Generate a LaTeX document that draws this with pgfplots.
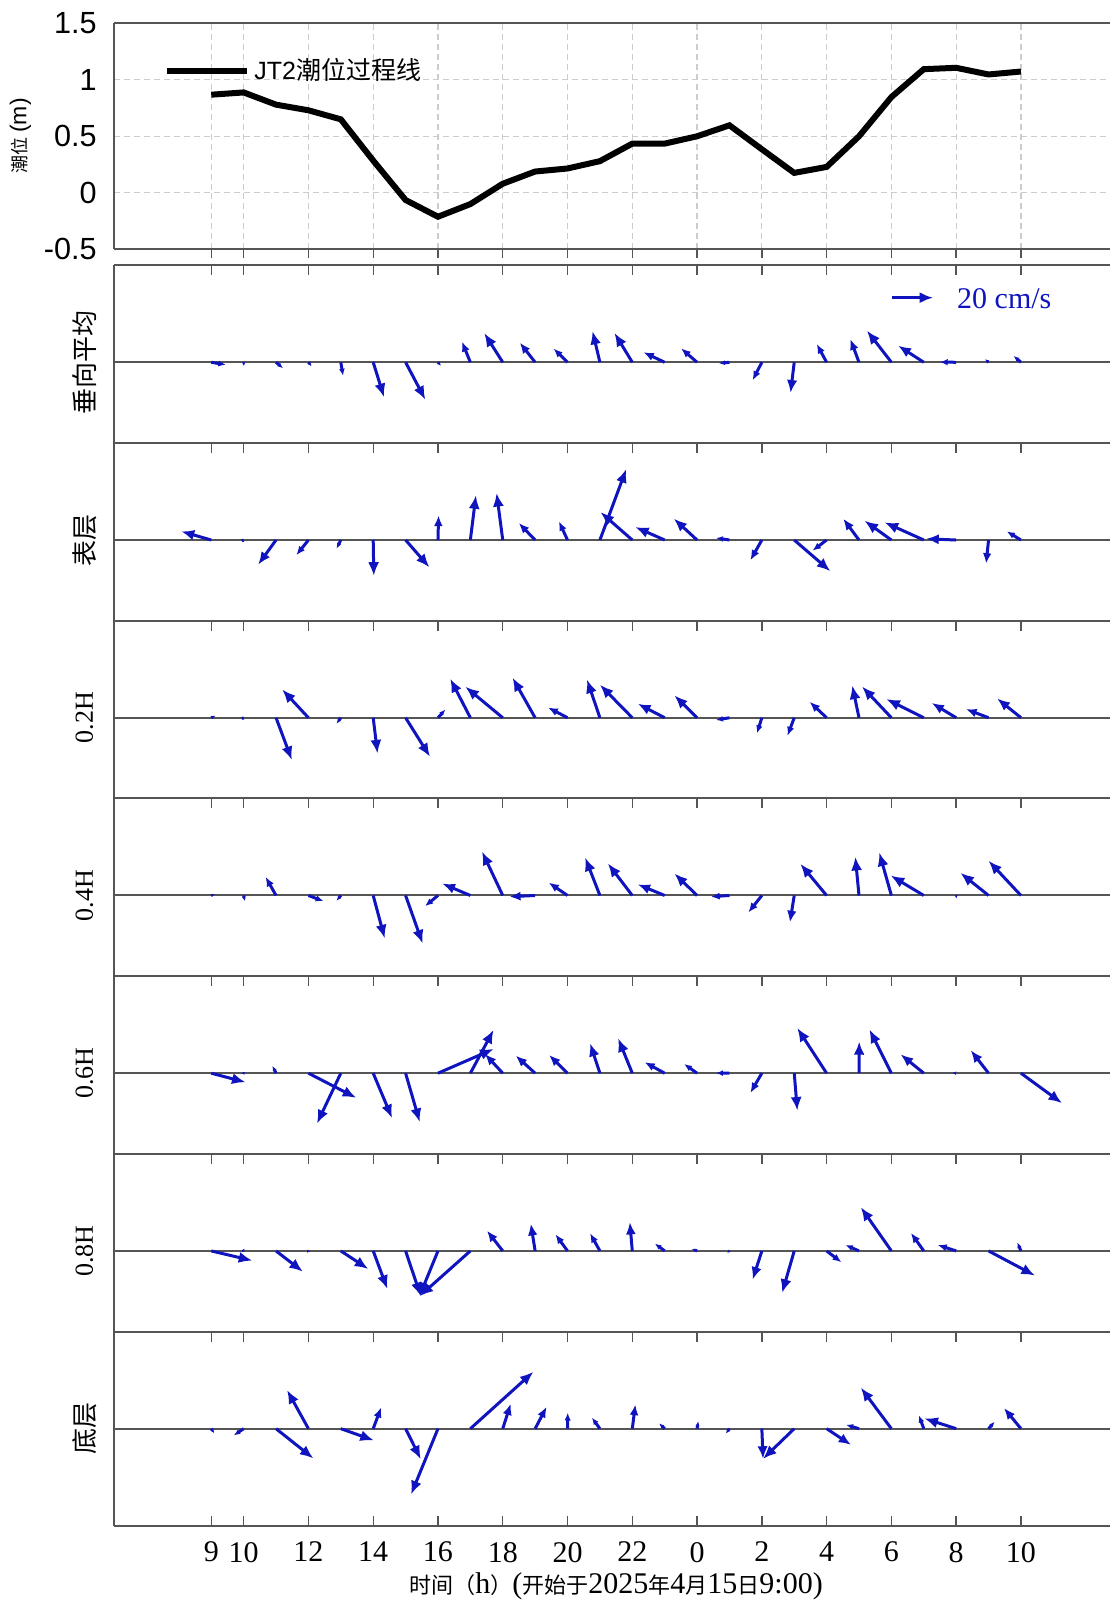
\documentclass[border=0pt]{standalone}
\usepackage{fontspec}
\setmainfont{Liberation Serif}
\newfontfamily\arial{Liberation Sans}
\newfontfamily\cjk{Noto Sans CJK SC}
\usepackage{pgfplots}
\usepackage{pgfplotstable}
\pgfplotsset{compat=1.18}
\usetikzlibrary{arrows.meta}
\definecolor{vblue}{RGB}{15,20,190}
\definecolor{axgray}{RGB}{85,85,85}

\newcommand\zh[1]{{\cjk\fontsize{13bp}{15bp}\selectfont #1}}
\newcommand\zhs[1]{{\cjk\fontsize{11bp}{13bp}\selectfont #1}}

% tide level (m), hours after 2025-04-15 09:00
\pgfplotstableread{
t level
0 0.868
1 0.888
2 0.780
3 0.730
4 0.650
5 0.285
6 -0.064
7 -0.212
8 -0.100
9 0.080
10 0.188
11 0.215
12 0.280
13 0.435
14 0.435
15 0.500
16 0.597
17 0.385
18 0.176
19 0.229
20 0.500
21 0.847
22 1.094
23 1.106
24 1.047
25 1.073
}\tide

% current vectors (cm/s): 1 vertical mean, 2 surface, 3 0.2H, 4 0.4H, 5 0.6H, 6 0.8H, 7 bottom
\pgfplotstableread{
t u1 v1 u2 v2 u3 v3 u4 v4 u5 v5 u6 v6 u7 v7
0 7.1 -1.2 -14.6 4.2 2.1 1.0 1.9 0.7 16.7 -4.4 20.0 -4.7 1.5 -2.3
1 0.1 -2.0 0.2 0.1 0.2 0.1 0.6 -2.8 0.5 -1.0 0.5 -0.5 -4.8 -3.3
2 3.4 -2.9 -8.7 -12.0 7.7 -20.6 -5.1 9.1 -1.8 3.6 13.1 -10.1 18.2 -14.5
3 1.6 -2.0 -5.9 -7.4 -12.8 13.8 7.4 -2.8 23.3 -12.0 -0.9 -1.0 -10.4 18.8
4 1.1 -6.6 -2.1 -4.2 -2.1 -2.9 -2.1 -2.6 -11.6 -24.5 13.4 -8.8 16.1 -5.7
5 5.3 -17.0 0.3 -17.4 2.1 -17.4 5.6 -20.9 9.2 -21.9 6.9 -18.5 3.9 10.4
6 9.6 -18.2 11.6 -13.3 11.9 -19.0 8.3 -23.4 6.9 -23.8 7.4 -22.0 7.4 -14.9
7 1.5 -1.8 0.3 12.0 3.6 4.0 -6.3 -5.2 27.1 11.8 -9.0 -22.0 -13.1 -32.0
8 -4.1 10.1 2.7 21.8 -9.8 19.0 -13.7 5.8 11.3 21.1 -24.7 -22.0 30.7 27.7
9 -9.0 14.2 -3.0 22.9 -18.2 15.1 -10.1 21.4 -8.7 9.4 -7.7 9.9 3.9 12.2
10 -7.5 9.6 -8.0 8.3 -11.0 19.5 -12.5 -0.6 -9.5 8.6 -2.1 13.3 5.6 10.7
11 -6.8 6.7 -4.2 9.1 -9.5 5.0 -9.2 6.3 -9.0 8.9 -5.9 8.1 0.1 7.8
12 -3.6 15.2 12.8 34.5 -6.3 18.6 -7.2 18.5 -4.8 14.6 -4.8 8.6 -3.9 5.4
13 -8.7 14.3 -15.5 13.6 -15.8 16.1 -11.9 15.6 -6.9 17.0 -1.2 14.0 1.5 11.8
14 -10.4 4.9 -14.3 6.3 -13.1 6.8 -13.1 5.4 -9.8 5.4 -4.8 3.6 -2.7 2.6
15 -7.8 6.8 -11.3 10.4 -11.0 10.9 -11.0 10.7 -6.3 4.5 -2.7 1.0 0.6 3.7
16 -5.1 -0.5 -6.6 1.0 -6.6 -1.1 -9.0 -0.6 -6.6 0.1 -1.2 -1.0 -1.8 -2.4
17 -4.5 -8.8 -5.6 -9.9 -2.4 -7.6 -6.6 -8.3 -5.6 -9.6 -4.5 -14.0 0.6 -14.7
18 -1.8 -14.9 17.6 -15.2 -3.3 -8.8 -2.1 -13.1 1.5 -18.2 -5.9 -20.4 -15.2 -14.7
19 -4.8 8.9 -6.9 -5.2 -8.3 7.8 -12.8 15.4 -14.3 22.0 7.2 -5.5 11.9 -7.9
20 -4.2 11.3 -7.7 10.4 -3.3 15.7 -1.8 18.8 0.1 15.4 -6.6 2.9 -6.3 1.9
21 -11.9 15.4 -13.1 9.4 -14.3 15.2 -5.9 20.9 -10.7 21.3 -14.9 21.3 -14.9 20.0
22 -12.5 8.1 -19.1 8.6 -18.2 9.1 -16.1 9.7 -11.3 9.2 -6.3 8.8 -2.4 6.5
23 -8.0 0.1 -14.6 0.6 -11.9 7.2 0.1 -1.6 -2.0 0.1 -9.0 2.9 -15.5 5.0
24 -1.8 1.6 -1.2 -11.5 -11.0 4.2 -13.7 11.0 -8.7 11.2 22.6 -12.0 3.0 3.4
25 -3.6 3.1 -6.9 4.2 -11.6 9.4 -15.8 16.9 20.0 -14.6 -1.8 4.2 -8.3 10.1
}\flow

\pgfplotstableread{
t uS vS
21.02 20 0
}\scalevec

\pgfplotsset{
  lowpanel/.style={
    scale only axis, width=497.95bp, xmin=-3, xmax=27.75, ymax=97,
    anchor=south west, clip=false,
    axis x line*=box, axis y line*=left,
    axis line style={axgray, line width=1bp},
    xtick={0,1,3,5,7,9,11,13,15,17,19,21,23,25},
    xticklabels={}, ytick=\empty,
    tick align=inside, xtick pos=right,
    major tick length=5bp,
    tick style={axgray, line width=0.7bp},
    point meta min=0, point meta max=100,
  },
  vec/.style={color=vblue, line width=1.5bp, no markers,
    point meta={2.055*sqrt((\thisrow{u#1})^2+(\thisrow{v#1})^2)},
    quiver={u={0.063446*\thisrow{u#1}}, v={2.055*\thisrow{v#1}},
      every arrow/.append style={/utils/exec={\pgfmathsetmacro\hl{min(6.8,0.017*\pgfplotspointmetatransformed+1.2)}\pgfmathsetmacro\hw{0.82*\hl}},/tikz/arrows/.expanded={-{Latex[length=\hl bp,width=\hw bp]}}}},
    },
  baseln/.style={axgray, line width=1bp},
}

\begin{document}
\begin{tikzpicture}
\useasboundingbox (0,0) rectangle (555bp,800bp);

% ---------- tide panel ----------
\begin{axis}[
  scale only axis, width=497.95bp, height=113bp,
  at={(57.05bp,675.35bp)}, anchor=south west,
  xmin=-3, xmax=27.75, ymin=-0.5, ymax=1.5,
  axis x line*=box, axis y line*=left,
  axis line style={axgray, line width=1bp},
  xtick={0,1,3,5,7,9,11,13,15,17,19,21,23,25}, xticklabels={},
  xtick pos=left,
  ytick={-0.5,0,0.5,1,1.5}, yticklabels={-0.5,0,0.5,1,1.5},
  tick align=outside, major tick length=4.5bp,
  tick style={axgray, line width=0.7bp},
  ytick style={draw=none},
  grid=major, grid style={densely dashed, black!20, line width=0.6bp},
  yticklabel style={font=\arial\fontsize{15.3bp}{18bp}\selectfont, anchor=east, inner sep=0pt, xshift=-4bp},
  clip=false,
  legend style={at={(axis cs:-1.46,1.082)}, anchor=west, draw=none, fill=none,
    inner sep=0pt, font=\arial\fontsize{12.5bp}{15bp}\selectfont},
  legend cell align=left,
  legend image code/.code={\draw[#1] (0bp,0bp) -- (40bp,0bp);},
]
\addplot[black, line width=3bp] table[x=t, y=level] {\tide};
\addlegendentry{JT2{\cjk 潮位过程线}}
\node[rotate=90, inner sep=0pt] at (axis cs:-5.894,0.503)
  {{\cjk\fontsize{9bp}{11bp}\selectfont 潮位} {\arial\fontsize{11.5bp}{13bp}\selectfont (m)}};
\end{axis}

% ---------- panel 1: vertical mean ----------
\begin{axis}[lowpanel, at={(57.05bp,578.485bp)}, height=88.865bp, ymin=-80.73]
\addplot[baseln] coordinates {(-3,0) (27.75,0)};
\addplot[vec=1] table[x=t, y expr=0] {\flow};
\addplot[vec=S] table[x=t, y expr=64.6] {\scalevec};
\node[text=vblue, anchor=west, inner sep=0pt, font=\fontsize{15bp}{18bp}\selectfont] at (axis cs:23.02,64) {20 cm/s};
\node[rotate=90, inner sep=0pt] at (axis cs:-3.92,0) {\zh{垂向平均}};
\end{axis}

% ---------- panel 2: surface ----------
\begin{axis}[lowpanel, at={(57.05bp,489.62bp)}, height=88.865bp, ymin=-80.73]
\addplot[baseln] coordinates {(-3,0) (27.75,0)};
\addplot[vec=2] table[x=t, y expr=0] {\flow};
\node[rotate=90, inner sep=0pt] at (axis cs:-3.92,0) {\zh{表层}};
\end{axis}

% ---------- panel 3: 0.2H ----------
\begin{axis}[lowpanel, at={(57.05bp,400.755bp)}, height=88.865bp, ymin=-80.73]
\addplot[baseln] coordinates {(-3,0) (27.75,0)};
\addplot[vec=3] table[x=t, y expr=0] {\flow};
\node[rotate=90, inner sep=0pt, font=\fontsize{13bp}{15bp}\selectfont] at (axis cs:-3.92,0) {0.2H};
\end{axis}

% ---------- panel 4: 0.4H ----------
\begin{axis}[lowpanel, at={(57.05bp,311.89bp)}, height=88.865bp, ymin=-80.73]
\addplot[baseln] coordinates {(-3,0) (27.75,0)};
\addplot[vec=4] table[x=t, y expr=0] {\flow};
\node[rotate=90, inner sep=0pt, font=\fontsize{13bp}{15bp}\selectfont] at (axis cs:-3.92,0) {0.4H};
\end{axis}

% ---------- panel 5: 0.6H ----------
\begin{axis}[lowpanel, at={(57.05bp,223.025bp)}, height=88.865bp, ymin=-80.73]
\addplot[baseln] coordinates {(-3,0) (27.75,0)};
\addplot[vec=5] table[x=t, y expr=0] {\flow};
\node[rotate=90, inner sep=0pt, font=\fontsize{13bp}{15bp}\selectfont] at (axis cs:-3.92,0) {0.6H};
\end{axis}

% ---------- panel 6: 0.8H ----------
\begin{axis}[lowpanel, at={(57.05bp,134.16bp)}, height=88.865bp, ymin=-80.73]
\addplot[baseln] coordinates {(-3,0) (27.75,0)};
\addplot[vec=6] table[x=t, y expr=0] {\flow};
\node[rotate=90, inner sep=0pt, font=\fontsize{13bp}{15bp}\selectfont] at (axis cs:-3.92,0) {0.8H};
\end{axis}

% ---------- panel 7: bottom ----------
\begin{axis}[lowpanel, at={(57.05bp,36.9bp)}, height=97.26bp, ymin=-97.52,
  xtick pos=both, xticklabel pos=left,
  xticklabels={9,10,12,14,16,18,20,22,0,2,4,6,8,10},
  xticklabel style={font=\fontsize{15bp}{18bp}\selectfont, anchor=north, inner sep=0pt, yshift=-7.75bp}]
\addplot[baseln] coordinates {(-3,0) (27.75,0)};
\addplot[vec=7] table[x=t, y expr=0] {\flow};
\node[rotate=90, inner sep=0pt] at (axis cs:-3.92,0) {\zh{底层}};
\node[inner sep=0pt, font=\fontsize{15bp}{18bp}\selectfont] at (axis cs:12.5,-158)
  {\zhs{时间（}h\zhs{）}(\zhs{开始于}2025\zhs{年}4\zhs{月}15\zhs{日}9:00)};
\end{axis}
\end{tikzpicture}
\end{document}
